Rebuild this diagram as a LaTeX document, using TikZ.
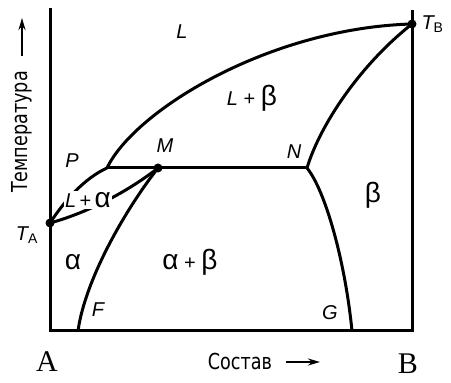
\documentclass[tikz,border=0pt]{standalone}
\usepackage{fontspec}
\setmainfont{Liberation Sans}
\newfontfamily\serifAB{Liberation Serif}
\newfontfamily\cyrfont[FakeStretch=0.8]{DejaVu Sans}
\usetikzlibrary{arrows.meta,positioning}

\newcommand\phL{{\itshape L}}
\newcommand\gA{{\fontsize{14}{16}\selectfont α}}
\newcommand\gB{{\fontsize{14}{16}\selectfont β}}

\begin{document}
\begin{tikzpicture}[x=0.5pt, y=-0.5pt, line width=1.5pt,
    dot/.style={circle, fill, inner sep=0pt, minimum size=4.5pt},
    ptlabel/.style={font=\fontsize{10}{12}\selectfont\itshape, inner sep=1pt},
    phase/.style={font=\fontsize{10}{12}\selectfont, inner sep=1pt},
    masked/.style={phase, fill=white, inner sep=0.5pt},
    axislabel/.style={font=\fontsize{11}{13}\selectfont\cyrfont, inner sep=0pt},
    endlabel/.style={font=\fontsize{15}{17}\selectfont\serifAB, inner sep=0pt},
    axisarrow/.style={line width=1.1pt, -{Stealth[length=6pt, width=3.5pt]}}]
  \useasboundingbox (0,0) rectangle (451,383);

  % frame of the diagram
  \coordinate (Atop) at (50,8);
  \coordinate (O) at (50,331);
  \coordinate (Bbot) at (412,331);
  \coordinate (Btop) at (412,10);
  \draw (Atop) -- (O) -- (Bbot) -- (Btop);

  % special points
  \coordinate (TA) at (50,223);
  \coordinate (TB) at (412,24);
  \coordinate (P) at (107,168);
  \coordinate (M) at (158,168);
  \coordinate (N) at (307,168);
  \coordinate (F) at (78,331);
  \coordinate (G) at (352,331);

  % phase boundaries
  \draw (TA) .. controls (65,200) and (85,178) .. (P);
  \draw (P) .. controls (135,110) and (270,28) .. (TB);
  \draw (P) -- (N);
  \draw (TA) .. controls (90,212) and (130,190) .. (M);
  \draw (M) .. controls (125,210) and (85,280) .. (F);
  \draw (N) .. controls (320,125) and (360,65) .. (TB);
  \draw (N) .. controls (325,190) and (345,260) .. (G);

  \node[dot] at (TA) {};
  \node[dot] at (M) {};
  \node[dot] at (TB) {};

  % point labels
  \node[ptlabel, right=3pt of TB] (lTB) {T\textsubscript{\upshape B}};
  \node[ptlabel, below left=0pt and 4pt of TA] (lTA) {T\textsubscript{\upshape A}};
  \node[ptlabel] (lP) at (72,161) {P};
  \node[ptlabel] (lM) at (165,146) {M};
  \node[ptlabel] (lN) at (294,152) {N};
  \node[ptlabel] (lF) at (98,310) {F};
  \node[ptlabel] (lG) at (330,313) {G};

  % phase regions
  \node[phase] (rL) at (182,32) {\phL};
  \node[phase] (rLb) at (252,98) {\phL\ + \gB};
  \node[masked] (rLa) at (88,200) {\phL\,+\,\gA};
  \node[phase] (ra) at (73,262) {\gA};
  \node[phase] (rab) at (190,262) {\gA\ + \gB};
  \node[phase] (rb) at (373,195) {\gB};

  % axes
  \node[endlabel] (lA) at (47,362) {A};
  \node[endlabel] (lB) at (408,364) {B};
  \node[axislabel] (sostav) at (240,362) {Состав};
  \coordinate (sarrow) at (320,362);
  \draw[axisarrow] ([xshift=6pt]sostav.east) -- (sarrow);
  \node[axislabel, rotate=90] (temp) at (22,132) {Температура};
  \coordinate (tarrow) at (22,18);
  \draw[axisarrow] ([yshift=7pt]temp.east) -- (tarrow);
\end{tikzpicture}
\end{document}
